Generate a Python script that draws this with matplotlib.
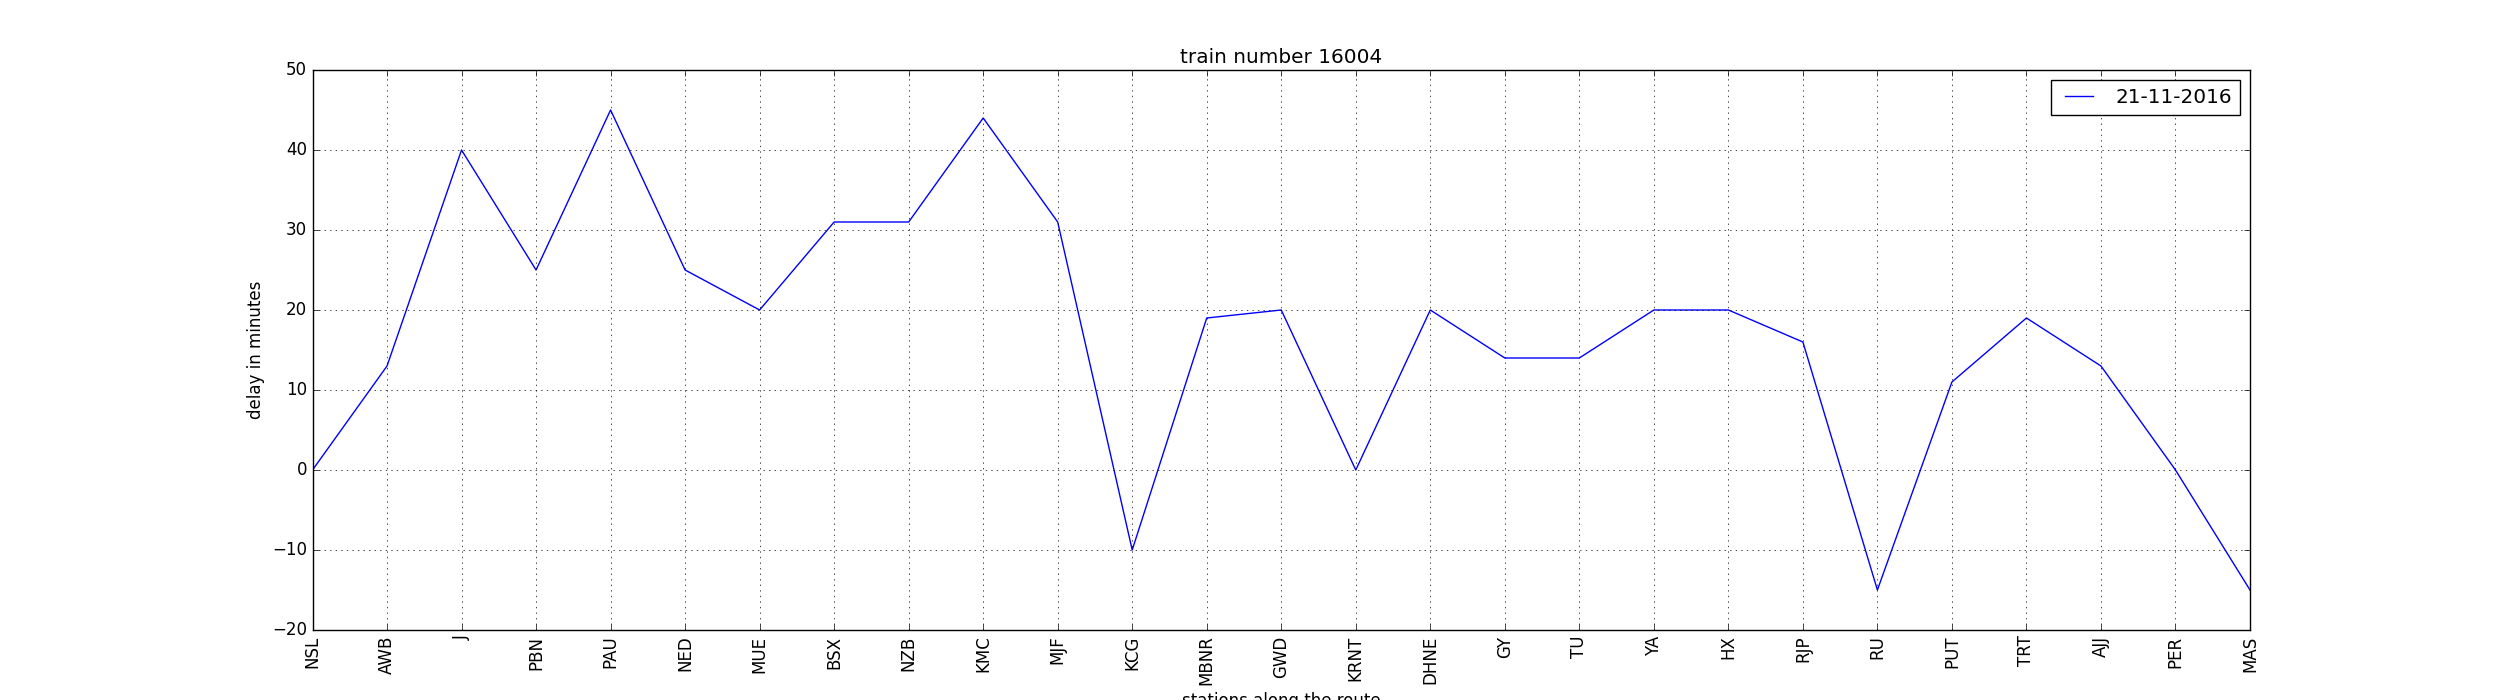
import matplotlib
matplotlib.use("Agg")
import matplotlib.pyplot as plt

plt.style.use("classic")

stations = ["NSL", "AWB", "J", "PBN", "PAU", "NED", "MUE", "BSX", "NZB", "KMC",
            "MJF", "KCG", "MBNR", "GWD", "KRNT", "DHNE", "GY", "TU", "YA", "HX",
            "RJP", "RU", "PUT", "TRT", "AJJ", "PER", "MAS"]
delays = [0, 13, 40, 25, 45, 25, 20, 31, 31, 44,
          31, -10, 19, 20, 0, 20, 14, 14, 20, 20,
          16, -15, 11, 19, 13, 0, -15]
series_label = "21-11-2016"

fig = plt.figure(figsize=(25, 7), dpi=100)
ax = fig.add_subplot(111)
x = list(range(len(stations)))
ax.plot(x, delays, color="b", label=series_label)
ax.set_xticks(x)
ax.set_xticklabels(stations, rotation=90)
ax.set_xlim(0, len(stations) - 1)
ax.set_ylim(-20, 50)
ax.grid(True)
ax.set_title("train number 16004")
ax.set_ylabel("delay in minutes")
ax.set_xlabel("stations along the route")
ax.legend(loc="upper right")
fig.savefig("out.png", dpi=100)
